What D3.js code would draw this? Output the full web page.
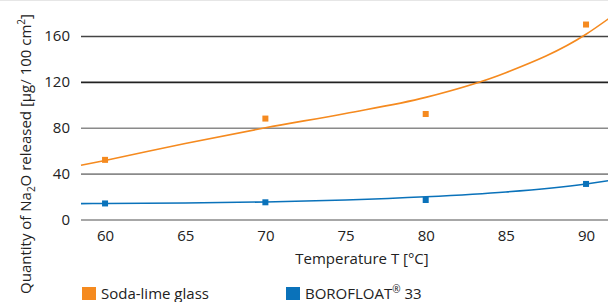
<!DOCTYPE html>
<html>
<head>
<meta charset="utf-8">
<script src="https://cdn.jsdelivr.net/npm/d3@7"></script>
<style>
  body { margin: 0; background: #fff; }
  svg text { font-family: "Open Sans", sans-serif; fill: #222; }
</style>
</head>
<body>
<svg id="chart" width="608" height="302"></svg>
<script>
// measured points
const temps = [60, 70, 80, 90];
const sodaLime = [52, 88, 92, 170];
const borofloat = [14, 15, 17, 31];

// fitted trend lines
const fitTemps = [58.5, 60, 65, 70, 75, 80, 85, 90, 91.4];
const sodaFit = [47.3, 51.5, 66.3, 80, 92.5, 106.5, 128, 161.5, 175];
const boroFit = [13.8, 14, 14.4, 15.3, 17, 19.8, 24, 31, 33.8];

const xTicks = [60, 65, 70, 75, 80, 85, 90];
const yTicks = [0, 40, 80, 120, 160];
const gridColors = ["#8a8a8a", "#8a8a8a", "#8a8a8a", "#222", "#444"];

const series = [
    {name: "Soda-lime glass", color: "#f58a1f", pts: sodaLime, fit: sodaFit},
    {name: "BOROFLOAT", sup: "®", tail: " 33", color: "#0a72ba", pts: borofloat, fit: boroFit}
];

const svg = d3.select("#chart");
const left = 81, right = 608;

const x = d3.scaleLinear()
    .domain([58.5, 91.37])
    .range([left, right]);

const y = d3.scaleLinear()
    .domain([0, 160])
    .range([219.5, 36]);

// thin frame line on top
svg.append("line")
    .attr("x1", 0).attr("x2", 608)
    .attr("y1", 0.5).attr("y2", 0.5)
    .attr("stroke", "#e6e6e6");

// y grid + labels
const yAxis = svg.append("g")
    .attr("transform", "translate(" + left + ",0)")
    .call(d3.axisLeft(y).tickValues(yTicks).tickSize(-(right - left)).tickPadding(11));
yAxis.select(".domain").remove();
yAxis.selectAll(".tick line")
    .attr("stroke", (d, i) => gridColors[i])
    .attr("stroke-width", 1.7);
yAxis.selectAll(".tick text")
    .attr("font-size", 15)
    .attr("font-family", "Open Sans, sans-serif")
    .attr("fill", "#222");

// x labels
const xAxis = svg.append("g")
    .attr("transform", "translate(0,226)")
    .call(d3.axisBottom(x).tickValues(xTicks).tickSize(0).tickPadding(4));
xAxis.select(".domain").remove();
xAxis.selectAll(".tick text")
    .attr("font-size", 15)
    .attr("font-family", "Open Sans, sans-serif")
    .attr("fill", "#222");

// trend curves
const line = d3.line()
    .x((d, i) => x(fitTemps[i]))
    .y(d => y(d))
    .curve(d3.curveMonotoneX);

series.forEach(s => {
    svg.append("path")
        .attr("d", line(s.fit))
        .attr("fill", "none")
        .attr("stroke", s.color)
        .attr("stroke-width", 1.6);

    svg.selectAll(null)
        .data(s.pts)
        .enter().append("rect")
        .attr("x", (d, i) => x(temps[i]) - 3)
        .attr("y", d => y(d) - 3)
        .attr("width", 6)
        .attr("height", 6)
        .attr("fill", s.color);
});

// axis titles
svg.append("text")
    .attr("x", 362)
    .attr("y", 264)
    .attr("text-anchor", "middle")
    .attr("font-size", 15)
    .text("Temperature T [°C]");

const yt = svg.append("text")
    .attr("transform", "translate(31,154) rotate(-90)")
    .attr("text-anchor", "middle")
    .attr("font-size", 15);
yt.append("tspan").text("Quantity of Na");
yt.append("tspan").attr("font-size", 10).attr("dy", 4).text("2");
yt.append("tspan").attr("dy", -4).text("O released [µg/ 100 cm");
yt.append("tspan").attr("font-size", 10).attr("dy", -6).text("2");
yt.append("tspan").attr("dy", 6).text("]");

// legend
const legendX = [82, 286];
series.forEach((s, i) => {
    svg.append("rect")
        .attr("x", legendX[i]).attr("y", 287)
        .attr("width", 14).attr("height", 13)
        .attr("fill", s.color);
    const t = svg.append("text")
        .attr("x", legendX[i] + 19)
        .attr("y", 299)
        .attr("font-size", 15);
    t.append("tspan").text(s.name);
    if (s.sup) {
        t.append("tspan").attr("font-size", 10).attr("dy", -6).text(s.sup);
        t.append("tspan").attr("dy", 6).text(s.tail);
    }
});
</script>
</body>
</html>
